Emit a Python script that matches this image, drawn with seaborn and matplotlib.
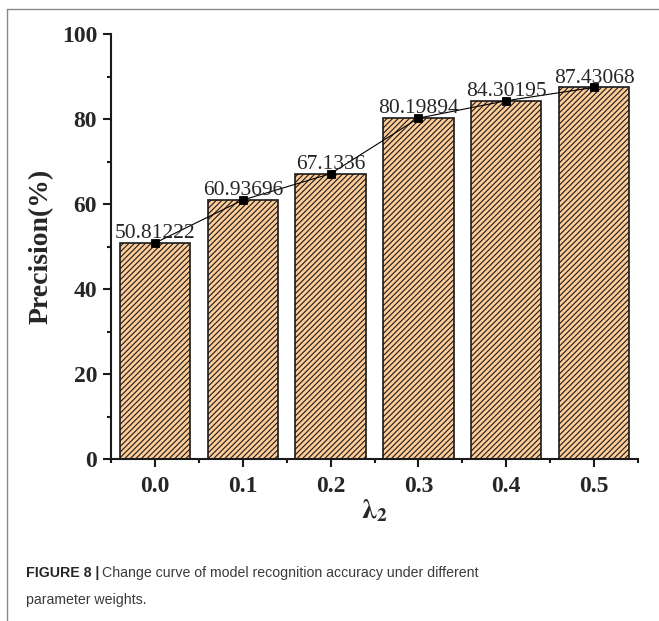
import numpy as np
import pandas as pd
import matplotlib
matplotlib.use("Agg")
import matplotlib.pyplot as plt
from matplotlib.lines import Line2D
from matplotlib.ticker import MultipleLocator, FixedLocator
import seaborn as sns

# data
lambda2 = ["0.0", "0.1", "0.2", "0.3", "0.4", "0.5"]
precision = [50.81222, 60.93696, 67.1336, 80.19894, 84.30195, 87.43068]

df = pd.DataFrame({"lambda2": lambda2, "precision": precision})

sns.set_style("ticks")
plt.rcParams["font.family"] = ["Liberation Serif", "DejaVu Serif"]
plt.rcParams["mathtext.fontset"] = "stix"
plt.rcParams["hatch.linewidth"] = 0.8
plt.rcParams["hatch.color"] = "#1a1a1a"

fig = plt.figure(figsize=(6.59, 6.21), dpi=100)
ax = fig.add_axes([111/659, 1-459/621, (638-111)/659, (459-34)/621])

sns.barplot(data=df, x="lambda2", y="precision", color="#FECC98", edgecolor="#1a1a1a",
            linewidth=1.2, width=0.8, saturation=1, ax=ax, zorder=2)
for p in ax.patches:
    p.set_hatch("//////")

sns.pointplot(data=df, x="lambda2", y="precision", color="black", markers="s",
              markersize=5.5, linewidth=0.8, errorbar=None, ax=ax)
for c in ax.collections + ax.lines:
    c.set_zorder(4)

for i, v in enumerate(precision):
    ax.annotate(str(v), (i, v), xytext=(0, 3.5), textcoords="offset points",
                ha="center", va="baseline", fontsize=15.5, zorder=5)

ax.set_xlim(-0.5, 5.5)
ax.set_ylim(0, 100)
ax.yaxis.set_major_locator(MultipleLocator(20))
ax.yaxis.set_minor_locator(MultipleLocator(10))
ax.xaxis.set_minor_locator(FixedLocator(np.arange(-0.5, 6, 1.0)))
sns.despine(ax=ax)
for s in ["left", "bottom"]:
    ax.spines[s].set_linewidth(1.5)
    ax.spines[s].set_color("#1a1a1a")
ax.tick_params(axis="both", which="major", length=6, width=1.5, labelsize=17, color="#1a1a1a")
ax.tick_params(axis="both", which="minor", length=3, width=1.5, color="#1a1a1a")
ax.tick_params(axis="y", which="major", pad=4)
ax.tick_params(axis="x", which="major", pad=6)
for lab in ax.get_xticklabels() + ax.get_yticklabels():
    lab.set_fontweight("bold")

ax.set_ylabel("Precision(%)", fontsize=20, fontweight="bold", labelpad=6)
ax.set_xlabel(r"$\boldsymbol{\lambda}_\mathbf{2}$", fontsize=20, labelpad=1)

# outer frame (top and left edges only)
fig.add_artist(Line2D([7/659, 1], [1-9/621, 1-9/621], transform=fig.transFigure, color="#8a8a8a", lw=1))
fig.add_artist(Line2D([7/659, 7/659], [0, 1-9/621], transform=fig.transFigure, color="#8a8a8a", lw=1))

# caption
cap_font = "Liberation Sans"
renderer = fig.canvas.get_renderer()
cap_y1 = 1 - 573/621
cap_y2 = 1 - 600/621
t1 = fig.text(26/659, cap_y1, "FIGURE 8 |", family=cap_font, fontsize=10.2,
              fontweight="bold", color="#262626", va="center")
bb = t1.get_window_extent(renderer)
fig.text((bb.x1 + 3)/fig.bbox.width, cap_y1,
         "Change curve of model recognition accuracy under different",
         family=cap_font, fontsize=10.2, color="#3a3a3a", va="center")
fig.text(26/659, cap_y2, "parameter weights.", family=cap_font, fontsize=10.2,
         color="#3a3a3a", va="center")

fig.savefig("out.png", dpi=100)
